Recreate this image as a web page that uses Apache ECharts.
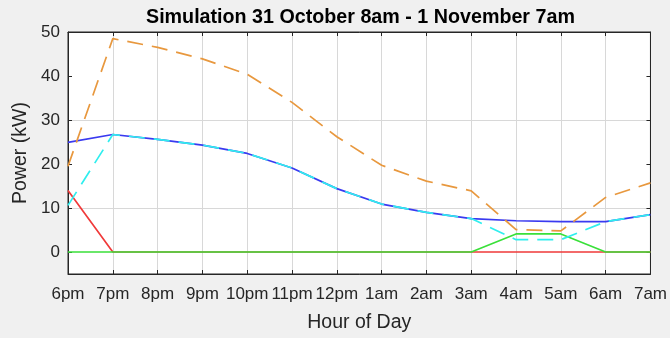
<!DOCTYPE html>
<html>
<head>
<meta charset="utf-8">
<script src="https://cdn.jsdelivr.net/npm/echarts@6/dist/echarts.min.js"></script>
<style>
html,body{margin:0;padding:0;background:#f0f0f0;}
#chart{width:670px;height:338px;}
</style>
</head>
<body>
<div id="chart"></div>
<script>
var categories = ['6pm','7pm','8pm','9pm','10pm','11pm','12pm','1am','2am','3am','4am','5am','6am','7am'];
var orangeDashed = [19.5, 48.5, 46.5, 43.9, 40.4, 34.0, 26.2, 19.7, 16.1, 13.9, 5.1, 4.8, 12.4, 15.7];
var blueSolid    = [24.9, 26.7, 25.6, 24.3, 22.4, 19.1, 14.4, 10.9, 9.0, 7.6, 7.1, 6.9, 6.9, 8.5];
var cyanDashed   = [10.6, 26.7, 25.6, 24.3, 22.4, 19.1, 14.4, 10.9, 9.0, 7.6, 2.8, 2.8, 6.9, 8.5];
var redSolid     = [14.0, 0, 0, 0, 0, 0, 0, 0, 0, 0, 0, 0, 0, 0];
var greenSolid   = [0, 0, 0, 0, 0, 0, 0, 0, 0, 0, 4.1, 4.1, 0, 0];
var yTicks = [0, 10, 20, 30, 40, 50];

var FONT = "'Liberation Sans', Arial, Helvetica, sans-serif";
var TXT = '#262626';

var chart = echarts.init(document.getElementById('chart'), null, {renderer: 'canvas'});

function lineSeries(name, data, color, dashed, z) {
  return {
    name: name, type: 'line', data: data, symbol: 'none', z: z,
    xAxisIndex: 0, yAxisIndex: 0,
    lineStyle: {color: color, width: 1.7, type: dashed ? [16, 9] : 'solid'},
    emphasis: {disabled: true}, animation: false
  };
}

var option = {
  backgroundColor: '#f0f0f0',
  animation: false,
  title: {
    text: 'Simulation 31 October 8am - 1 November 7am',
    left: 141, top: 3,
    textStyle: {fontFamily: FONT, fontSize: 19.7, fontWeight: 'bold', color: '#000'}
  },
  grid: {
    left: 68, right: 18, top: 32, bottom: 62,
    show: true, backgroundColor: '#ffffff', borderColor: '#262626', borderWidth: 1,
    containLabel: false
  },
  xAxis: [{
    type: 'category', data: categories, boundaryGap: false, position: 'bottom',
    name: 'Hour of Day', nameLocation: 'middle', nameGap: 39,
    nameTextStyle: {fontFamily: FONT, fontSize: 19.5, color: TXT},
    axisLine: {show: true, onZero: false, lineStyle: {color: '#262626', width: 1}},
    axisTick: {show: true, inside: true, length: 4, lineStyle: {color: '#262626'}},
    axisLabel: {interval: 0, hideOverlap: false, margin: 12, fontFamily: FONT, fontSize: 17, color: TXT},
    splitLine: {show: true, interval: 0, lineStyle: {color: '#d8d8d8', width: 1}}
  }, {
    type: 'category', data: categories, boundaryGap: false, position: 'top',
    axisLine: {show: true, onZero: false, lineStyle: {color: '#262626', width: 1}},
    axisTick: {show: true, inside: true, length: 4, lineStyle: {color: '#262626'}},
    axisLabel: {show: false},
    splitLine: {show: false}
  }],
  yAxis: [{
    type: 'value', min: -5, max: 50, interval: 5, position: 'left',
    name: 'Power (kW)', nameLocation: 'middle', nameGap: 37, nameRotate: 90,
    nameTextStyle: {fontFamily: FONT, fontSize: 19.5, color: TXT},
    axisLine: {show: true, onZero: false, lineStyle: {color: '#262626', width: 1}},
    axisTick: {show: true, inside: true, length: 4, customValues: yTicks, lineStyle: {color: '#262626'}},
    axisLabel: {
      margin: 8, fontFamily: FONT, fontSize: 17, color: TXT,
      formatter: function (v) { return yTicks.indexOf(v) >= 0 ? String(v) : ''; }
    },
    splitLine: {show: true, lineStyle: {color: ['rgba(0,0,0,0)', '#d8d8d8'], width: 1}}
  }, {
    type: 'value', min: -5, max: 50, interval: 5, position: 'right',
    axisLine: {show: true, onZero: false, lineStyle: {color: '#262626', width: 1}},
    axisTick: {show: true, inside: true, length: 4, customValues: yTicks, lineStyle: {color: '#262626'}},
    axisLabel: {show: false},
    splitLine: {show: false}
  }],
  series: [
    lineSeries('red', redSolid, '#f03a3a', false, 2),
    lineSeries('green', greenSolid, '#3ae03a', false, 3),
    lineSeries('blue', blueSolid, '#3a3af0', false, 4),
    lineSeries('cyan', cyanDashed, '#30eeee', true, 5),
    lineSeries('orange', orangeDashed, '#e8983e', true, 6)
  ]
};
chart.setOption(option);
</script>
</body>
</html>
